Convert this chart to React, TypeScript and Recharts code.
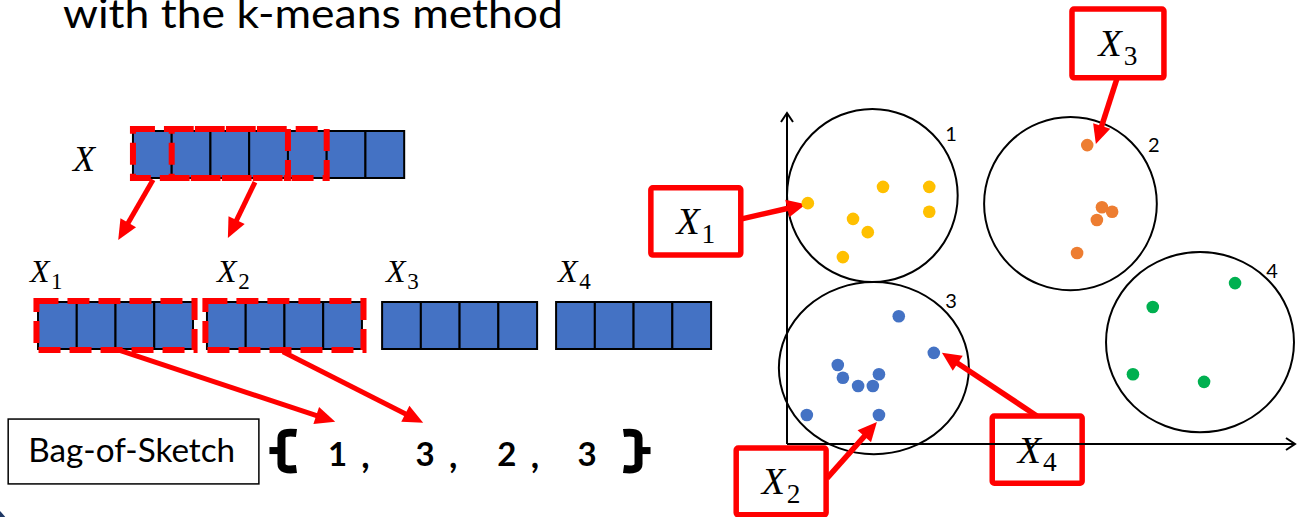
import { ScatterChart, Scatter, XAxis, YAxis, ReferenceArea, ReferenceLine } from "recharts";

const TITLE = "with the k-means method";

// ---- left diagram, in cell units (x: one sample cell, y: one row), origin = top-left of X1
const sourceStart = 2.45;
const sourceCells = 7;
const sourceRow = [-3.64, -2.64];
const windowStarts = [0, 1];
const windowCells = 4;
const sourceLabel = { x: 0.9, y: -2.79 };

const pieceNames = ["1", "2", "3", "4"];
const pieceStarts = [0, 4.36, 8.88, 13.37];
const pieceCells = 4;
const pieceRow = [0, 1];
const pieceHighlighted = [0, 1];
const pieceLabelX = [-0.21, 4.62, 8.98, 13.42];
const pieceLabelY = -0.43;

const splitArrows = [
  { x1: 2.97, y1: -2.6, x2: 2.07, y2: -1.32 },
  { x1: 5.6, y1: -2.55, x2: 4.9, y2: -1.36 }
];
const codeArrows = [
  { x1: 2.07, y1: 1.02, x2: 7.67, y2: 2.55 },
  { x1: 6.32, y1: 1.06, x2: 9.94, y2: 2.57 }
];

const bagBox = { x1: -0.77, x2: 5.7, y1: 2.49, y2: 3.87 };
const bagCodes = [1, 3, 2, 3];
const bagCodeX = [7.73, 9.99, 12.1, 14.17];
const bagCodeY = 3.49;
const braceX = [6.36, 15.42];
const braceY = 3.15;

// ---- right scatter (x 0..100, y 0..65)
const yellowPts = [
  { x: 4.1, y: 47.3 }, { x: 18.9, y: 50.5 }, { x: 28.0, y: 50.5 }, { x: 28.0, y: 45.6 },
  { x: 13.0, y: 44.2 }, { x: 15.9, y: 41.6 }, { x: 11.0, y: 36.7 }
];
const orangePts = [
  { x: 59.1, y: 58.7 }, { x: 62.0, y: 46.5 }, { x: 64.0, y: 45.6 }, { x: 61.0, y: 44.0 },
  { x: 57.1, y: 37.5 }
];
const bluePts = [
  { x: 22.0, y: 25.1 }, { x: 28.9, y: 17.9 }, { x: 10.0, y: 15.5 }, { x: 11.0, y: 13.0 },
  { x: 18.1, y: 13.7 }, { x: 14.0, y: 11.4 }, { x: 16.9, y: 11.4 }, { x: 3.9, y: 5.7 },
  { x: 18.1, y: 5.7 }
];
const greenPts = [
  { x: 88.2, y: 31.6 }, { x: 72.0, y: 26.9 }, { x: 68.1, y: 13.7 }, { x: 82.1, y: 12.2 }
];

const clusterIds = ["1", "2", "3", "4"];
const clusterCx = [16.8, 55.8, 17.1, 81.3];
const clusterCy = [48.8, 47.2, 14.9, 20.0];
const clusterRx = [16.8, 17.0, 18.7, 18.5];
const clusterRy = [17.0, 17.0, 16.9, 17.7];
const clusterTagX = [32.3, 72.2, 32.3, 95.5];
const clusterTagY = [61.1, 58.9, 28.3, 34.2];

const queryNames = ["1", "3", "2", "4"];
const queryBoxes = [
  { x1: -26.8, x2: -9.1, y1: 37.1, y2: 50.3 },
  { x1: 56.1, x2: 74.2, y1: 71.9, y2: 85.4 },
  { x1: -10.0, x2: 7.7, y1: -13.9, y2: -0.8 },
  { x1: 40.4, x2: 58.1, y1: -7.7, y2: 5.5 }
];
const queryArrows = [
  { x1: -8.9, y1: 44.2, x2: 3.7, y2: 47.1 },
  { x1: 65.0, y1: 71.9, x2: 60.8, y2: 58.9 },
  { x1: 7.9, y1: -6.7, x2: 17.7, y2: 4.3 },
  { x1: 49.2, y1: 5.5, x2: 30.5, y2: 17.9 }
];

const RED = "#FF0000";
const BLUE = "#4472C4";
const SERIF = "'Liberation Serif', 'DejaVu Serif', serif";
const SANS = "Lato, 'Open Sans', sans-serif";

const arrowShape = (color: string, width: number, headLen: number, headHalf: number) => (p: any) => {
  const { x1, y1, x2, y2 } = p;
  const len = Math.hypot(x2 - x1, y2 - y1) || 1;
  const ux = (x2 - x1) / len;
  const uy = (y2 - y1) / len;
  const bx = x2 - ux * headLen;
  const by = y2 - uy * headLen;
  const nx = -uy;
  const ny = ux;
  return (
    <g>
      <line x1={x1} y1={y1} x2={bx + ux * 2} y2={by + uy * 2} stroke={color} strokeWidth={width} />
      <polygon
        points={`${x2},${y2} ${bx + nx * headHalf},${by + ny * headHalf} ${bx - nx * headHalf},${by - ny * headHalf}`}
        fill={color}
      />
    </g>
  );
};

const axisShape = (p: any) => {
  const { x1, y1, x2, y2 } = p;
  const len = Math.hypot(x2 - x1, y2 - y1) || 1;
  const ux = (x2 - x1) / len;
  const uy = (y2 - y1) / len;
  const bx = x2 - ux * 9;
  const by = y2 - uy * 9;
  return (
    <g>
      <line x1={x1} y1={y1} x2={x2} y2={y2} stroke="#000" strokeWidth={2} />
      <polyline
        points={`${bx - uy * 6},${by + ux * 6} ${x2},${y2} ${bx + uy * 6},${by - ux * 6}`}
        fill="none"
        stroke="#000"
        strokeWidth={2}
      />
    </g>
  );
};

// thick bracket-like brace; "{" opens to the right, "}" to the left
const braceShape = (p: any) => {
  const dir = p.payload.open ? 1 : -1;
  const m = p.cy;
  const bar = p.cx - dir * 3;
  const d = `M ${bar + dir * 15} ${m - 17} Q ${bar} ${m - 19} ${bar} ${m - 12} L ${bar} ${m + 14} Q ${bar} ${m + 21} ${bar + dir * 15} ${m + 19}`;
  return (
    <g>
      <path d={d} fill="none" stroke="#000" strokeWidth={8} />
      <rect x={dir > 0 ? bar - 12 : bar} y={m - 3} width={12} height={7} fill="#000" />
    </g>
  );
};

function MathX({ x, y, sub, size, anchor }: { x: number; y: number; sub?: string; size: number; anchor?: string }) {
  return (
    <text x={x} y={y} fontFamily={SERIF} fontSize={size} fill="#000" textAnchor={anchor || "start"}>
      <tspan fontStyle="italic">X</tspan>
      {sub ? (
        <tspan fontSize={size * 0.72} dx={size * 0.05} dy={size * 0.22}>
          {sub}
        </tspan>
      ) : null}
    </text>
  );
}

function LeftDiagram() {
  const sourceCellList = Array.from({ length: sourceCells }, (_, i) => i);
  const pieceCellList = Array.from({ length: pieceCells }, (_, i) => i);
  const labelData = pieceNames.map((n, i) => ({ x: pieceLabelX[i], y: pieceLabelY, name: n }));
  const codeData = bagCodes.map((c, i) => ({ x: bagCodeX[i], y: bagCodeY, text: String(c), last: i === bagCodes.length - 1 }));
  const braceData = braceX.map((x, i) => ({ x, y: braceY, open: i === 0 }));

  return (
    <ScatterChart width={720} height={517} margin={{ top: 0, right: 0, bottom: 0, left: 0 }}>
      <XAxis type="number" dataKey="x" domain={[-0.981, 17.6]} allowDataOverflow hide />
      <YAxis type="number" dataKey="y" domain={[-6.426, 4.574]} allowDataOverflow reversed hide />

      {sourceCellList.map((i) => (
        <ReferenceArea
          key={`s${i}`}
          x1={sourceStart + i}
          x2={sourceStart + i + 1}
          y1={sourceRow[0]}
          y2={sourceRow[1]}
          fill={BLUE}
          fillOpacity={1}
          stroke="#000"
          strokeWidth={2}
          ifOverflow="visible"
        />
      ))}
      {pieceStarts.map((s, b) =>
        pieceCellList.map((i) => (
          <ReferenceArea
            key={`p${b}-${i}`}
            x1={s + i}
            x2={s + i + 1}
            y1={pieceRow[0]}
            y2={pieceRow[1]}
            fill={BLUE}
            fillOpacity={1}
            stroke="#000"
            strokeWidth={2}
            ifOverflow="visible"
          />
        ))
      )}
      {windowStarts.map((w) => (
        <ReferenceArea
          key={`w${w}`}
          x1={sourceStart + w}
          x2={sourceStart + w + windowCells}
          y1={sourceRow[0] - 0.04}
          y2={sourceRow[1]}
          fill="none"
          stroke={RED}
          strokeWidth={6}
          strokeDasharray="22 9"
          ifOverflow="visible"
        />
      ))}
      {pieceHighlighted.map((b) => (
        <ReferenceArea
          key={`h${b}`}
          x1={pieceStarts[b] - 0.04}
          x2={pieceStarts[b] + pieceCells + 0.04}
          y1={pieceRow[0] - 0.02}
          y2={pieceRow[1] + 0.02}
          fill="none"
          stroke={RED}
          strokeWidth={6}
          strokeDasharray="22 9"
          ifOverflow="visible"
        />
      ))}
      {[...splitArrows, ...codeArrows].map((a, i) => (
        <ReferenceLine
          key={`a${i}`}
          segment={[{ x: a.x1, y: a.y1 }, { x: a.x2, y: a.y2 }]}
          ifOverflow="visible"
          shape={arrowShape(RED, 5, 20, 9)}
        />
      ))}
      <ReferenceArea
        x1={bagBox.x1}
        x2={bagBox.x2}
        y1={bagBox.y1}
        y2={bagBox.y2}
        ifOverflow="visible"
        shape={(p: any) => (
          <g>
            <rect x={p.x} y={p.y} width={p.width} height={p.height} fill="#fff" stroke="#000" strokeWidth={1.5} />
            <text
              x={p.x + 20}
              y={p.y + p.height / 2 + 11}
              fontFamily={SANS}
              fontSize={32}
              textLength={207}
              lengthAdjust="spacingAndGlyphs"
              fill="#000"
            >
              Bag-of-Sketch
            </text>
          </g>
        )}
      />

      <Scatter
        data={[sourceLabel]}
        isAnimationActive={false}
        shape={(p: any) => <MathX x={p.cx} y={p.cy} size={36} />}
      />
      <Scatter
        data={labelData}
        isAnimationActive={false}
        shape={(p: any) => <MathX x={p.cx} y={p.cy} size={32} sub={p.payload.name} />}
      />
      <Scatter
        data={codeData}
        isAnimationActive={false}
        shape={(p: any) => (
          <g>
            <text x={p.cx} y={p.cy} textAnchor="middle" fontFamily={SANS} fontWeight={700} fontSize={33} fill="#000">
              {p.payload.text}
            </text>
            {p.payload.last ? null : (
              <text x={p.cx + 28} y={p.cy + 2} textAnchor="middle" fontFamily={SANS} fontWeight={700} fontSize={36} fill="#000">
                ,
              </text>
            )}
          </g>
        )}
      />
      <Scatter data={braceData} isAnimationActive={false} shape={braceShape} />
    </ScatterChart>
  );
}

function ClusterPlot() {
  const tagData = clusterIds.map((id, i) => ({ x: clusterTagX[i], y: clusterTagY[i], id }));
  const dot = (color: string) => (p: any) => <circle cx={p.cx} cy={p.cy} r={6.3} fill={color} />;

  return (
    <ScatterChart width={665} height={517} margin={{ top: 113, right: 10, bottom: 73, left: 147 }}>
      <XAxis type="number" dataKey="x" domain={[0, 100]} allowDataOverflow hide />
      <YAxis type="number" dataKey="y" domain={[0, 65]} allowDataOverflow hide />

      {clusterIds.map((id, i) => (
        <ReferenceArea
          key={`c${id}`}
          x1={clusterCx[i] - clusterRx[i]}
          x2={clusterCx[i] + clusterRx[i]}
          y1={clusterCy[i] - clusterRy[i]}
          y2={clusterCy[i] + clusterRy[i]}
          ifOverflow="visible"
          shape={(p: any) => (
            <ellipse
              cx={p.x + p.width / 2}
              cy={p.y + p.height / 2}
              rx={p.width / 2}
              ry={p.height / 2}
              fill="none"
              stroke="#000"
              strokeWidth={2}
            />
          )}
        />
      ))}
      <ReferenceLine segment={[{ x: 0, y: 0 }, { x: 100, y: 0 }]} ifOverflow="visible" shape={axisShape} />
      <ReferenceLine segment={[{ x: 0, y: 0 }, { x: 0, y: 65 }]} ifOverflow="visible" shape={axisShape} />

      {queryBoxes.map((b, i) => (
        <ReferenceArea
          key={`q${i}`}
          x1={b.x1}
          x2={b.x2}
          y1={b.y1}
          y2={b.y2}
          ifOverflow="visible"
          shape={(p: any) => (
            <g>
              <rect
                x={p.x}
                y={p.y}
                width={p.width}
                height={p.height}
                rx={2}
                fill="none"
                stroke={RED}
                strokeWidth={5.5}
              />
              <MathX x={p.x + p.width / 2} y={p.y + p.height / 2 + 13} size={38} sub={queryNames[i]} anchor="middle" />
            </g>
          )}
        />
      ))}
      {queryArrows.map((a, i) => (
        <ReferenceLine
          key={`qa${i}`}
          segment={[{ x: a.x1, y: a.y1 }, { x: a.x2, y: a.y2 }]}
          ifOverflow="visible"
          shape={arrowShape(RED, 5.5, 19, 9)}
        />
      ))}

      <Scatter data={yellowPts} isAnimationActive={false} shape={dot("#FFC000")} />
      <Scatter data={orangePts} isAnimationActive={false} shape={dot("#ED7D31")} />
      <Scatter data={bluePts} isAnimationActive={false} shape={dot(BLUE)} />
      <Scatter data={greenPts} isAnimationActive={false} shape={dot("#00B050")} />
      <Scatter
        data={tagData}
        isAnimationActive={false}
        shape={(p: any) => (
          <text
            x={p.cx}
            y={p.cy}
            textAnchor="middle"
            dominantBaseline="central"
            fontFamily={SANS}
            fontSize={20}
            fill="#000"
          >
            {p.payload.id}
          </text>
        )}
      />
    </ScatterChart>
  );
}

export default function App() {
  return (
    <div
      style={{
        position: "absolute",
        left: 0,
        top: 0,
        width: 1305,
        height: 517,
        overflow: "hidden",
        background: "#fff"
      }}
    >
      <svg width={700} height={45} style={{ position: "absolute", left: 0, top: 0 }}>
        <text x={63} y={28} fontFamily={SANS} fontSize={40} textLength={500} lengthAdjust="spacingAndGlyphs" fill="#000">
          {TITLE}
        </text>
      </svg>
      <div style={{ position: "absolute", left: 0, top: 0 }}>
        <LeftDiagram />
      </div>
      <div style={{ position: "absolute", left: 640, top: 0 }}>
        <ClusterPlot />
      </div>
      <div
        style={{
          position: "absolute",
          left: -120,
          top: 490,
          width: 140,
          height: 140,
          borderRadius: "50%",
          background: "#1F3864"
        }}
      />
    </div>
  );
}
